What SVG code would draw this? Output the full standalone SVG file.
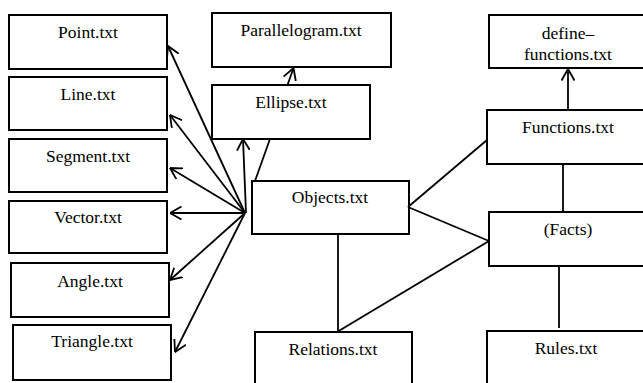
<svg xmlns="http://www.w3.org/2000/svg" width="643" height="383" viewBox="0 0 643 383">
<style>
.box{fill:#fff;stroke:#000;stroke-width:2}
.lbl{font-family:'Liberation Serif','DejaVu Serif',serif;font-size:17.5px;fill:#000;text-anchor:middle}
.ln{fill:none;stroke:#000;stroke-width:1.8}
</style>
<defs>
<marker id="arr" viewBox="0 0 12 14" refX="11.5" refY="7" markerWidth="12" markerHeight="14" markerUnits="userSpaceOnUse" orient="auto">
<path d="M0,0.5 L11.5,7 L0,13.5" fill="none" stroke="#000" stroke-width="1.8"/>
</marker>
</defs>
<rect width="643" height="383" fill="#fff"/>
<g id="point"><rect class="box" x="9" y="15" width="158" height="54"/><text class="lbl" x="88" y="38" font-family="Liberation Serif">Point.txt</text></g>
<g id="line"><rect class="box" x="9" y="77" width="158" height="53"/><text class="lbl" x="88" y="100">Line.txt</text></g>
<g id="segment"><rect class="box" x="9" y="139" width="158" height="53"/><text class="lbl" x="88" y="162">Segment.txt</text></g>
<g id="vector"><rect class="box" x="9" y="201" width="158" height="52"/><text class="lbl" x="88" y="223">Vector.txt</text></g>
<g id="angle"><rect class="box" x="11" y="263" width="158" height="54"/><text class="lbl" x="90" y="287">Angle.txt</text></g>
<g id="triangle"><rect class="box" x="13" y="325" width="158" height="55"/><text class="lbl" x="92" y="347">Triangle.txt</text></g>
<g id="parallelogram"><rect class="box" x="212" y="13" width="179" height="54"/><text class="lbl" x="301" y="36">Parallelogram.txt</text></g>
<g id="ellipse"><rect class="box" x="212" y="85" width="158" height="54"/><text class="lbl" x="291" y="108">Ellipse.txt</text></g>
<g id="objects"><rect class="box" x="252" y="181" width="157" height="53"/><text class="lbl" x="330" y="203">Objects.txt</text></g>
<g id="relations"><rect class="box" x="255" y="332" width="157" height="60"/><text class="lbl" x="333" y="355">Relations.txt</text></g>
<g id="define-functions"><rect class="box" x="489" y="15" width="160" height="53"/><text class="lbl" x="568" y="39">define–</text><text class="lbl" x="568" y="60">functions.txt</text></g>
<g id="functions"><rect class="box" x="487" y="110" width="160" height="54"/><text class="lbl" x="568" y="133">Functions.txt</text></g>
<g id="facts"><rect class="box" x="489" y="212" width="160" height="54"/><text class="lbl" x="568" y="235">(Facts)</text></g>
<g id="rules"><rect class="box" x="487" y="331" width="160" height="60"/><text class="lbl" x="566" y="354">Rules.txt</text></g>
<g id="connectors">
<path class="ln" d="M245,213 L168,46" marker-end="url(#arr)"/>
<path class="ln" d="M245,213 L170,115" marker-end="url(#arr)"/>
<path class="ln" d="M245,213 L170,168" marker-end="url(#arr)"/>
<path class="ln" d="M245,213 L170,213" marker-end="url(#arr)"/>
<path class="ln" d="M245,213 L170,280" marker-end="url(#arr)"/>
<path class="ln" d="M245,213 L175,352" marker-end="url(#arr)"/>
<path class="ln" d="M246,213 L243,139" marker-end="url(#arr)"/>
<path class="ln" d="M255,181 L269.6,140 M287.5,85 L293.5,68" marker-end="url(#arr)"/>
<path class="ln" d="M568,110 L568,69" marker-end="url(#arr)"/>
<path class="ln" d="M408,207 L487,140"/>
<path class="ln" d="M408,207 L489,241"/>
<path class="ln" d="M337,332 L489,241"/>
<path class="ln" d="M338,234 L338,332"/>
<path class="ln" d="M563,164 L563,212"/>
<path class="ln" d="M559,266 L559,328"/>
</g>
</svg>
